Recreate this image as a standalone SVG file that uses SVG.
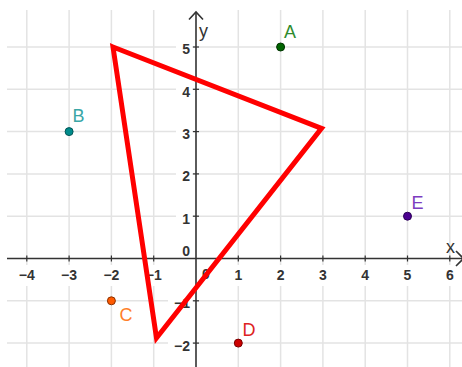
<svg xmlns="http://www.w3.org/2000/svg" width="462" height="367" viewBox="0 0 462 367">
<defs>
<style>
.grid line{stroke:#e3e3e3;stroke-width:1.5}
.axis{stroke:#333;stroke-width:1.6;fill:none}
.tick{stroke:#333;stroke-width:1.2}
.bg{fill:#fff}
.num{font-family:"Liberation Sans",Arial,sans-serif;font-size:14px;font-weight:bold;fill:#333}
.xn{text-anchor:middle}
.yn{text-anchor:end}
.lbl{font-family:"Liberation Sans",Arial,sans-serif;font-size:18px}
.tri{fill:none;stroke:#ff0000;stroke-width:5;stroke-linejoin:miter}
</style>
</defs>
<rect width="462" height="367" fill="#fff"/>
<g id="grid" class="grid">
<line x1="26.8" y1="10" x2="26.8" y2="367"/>
<line x1="69.1" y1="10" x2="69.1" y2="367"/>
<line x1="111.4" y1="10" x2="111.4" y2="367"/>
<line x1="153.7" y1="10" x2="153.7" y2="367"/>
<line x1="238.3" y1="10" x2="238.3" y2="367"/>
<line x1="280.6" y1="10" x2="280.6" y2="367"/>
<line x1="322.9" y1="10" x2="322.9" y2="367"/>
<line x1="365.2" y1="10" x2="365.2" y2="367"/>
<line x1="407.5" y1="10" x2="407.5" y2="367"/>
<line x1="449.8" y1="10" x2="449.8" y2="367"/>
<line x1="7" y1="47" x2="462" y2="47"/>
<line x1="7" y1="89.3" x2="462" y2="89.3"/>
<line x1="7" y1="131.6" x2="462" y2="131.6"/>
<line x1="7" y1="173.9" x2="462" y2="173.9"/>
<line x1="7" y1="216.2" x2="462" y2="216.2"/>
<line x1="7" y1="300.8" x2="462" y2="300.8"/>
<line x1="7" y1="343.1" x2="462" y2="343.1"/>
</g>
<g id="label-bg" class="bg">
<rect x="16" y="265" width="22" height="21"/>
<rect x="58" y="265" width="22" height="21"/>
<rect x="100" y="265" width="22" height="21"/>
<rect x="143" y="265" width="22" height="21"/>
<rect x="231" y="265" width="15" height="21"/>
<rect x="273" y="265" width="15" height="21"/>
<rect x="315" y="265" width="15" height="21"/>
<rect x="358" y="265" width="15" height="21"/>
<rect x="400" y="265" width="15" height="21"/>
<rect x="442" y="265" width="15" height="21"/>
<rect x="176" y="41" width="16" height="16"/>
<rect x="176" y="83" width="16" height="16"/>
<rect x="176" y="126" width="16" height="16"/>
<rect x="176" y="168" width="16" height="16"/>
<rect x="176" y="210" width="16" height="16"/>
<rect x="168" y="295" width="24" height="16"/>
<rect x="168" y="337" width="24" height="16"/>
</g>
<g id="axes">
<line class="axis" x1="7" y1="258.5" x2="462" y2="258.5"/>
<line class="axis" x1="196" y1="12" x2="196" y2="367"/>
<polyline class="axis" points="189,19.5 196,12 203,19.5"/>
<polyline class="axis" points="456,251 463.5,258.5 456,266"/>
<g class="tick">
<line x1="26.8" y1="255.5" x2="26.8" y2="261.5"/>
<line x1="69.1" y1="255.5" x2="69.1" y2="261.5"/>
<line x1="111.4" y1="255.5" x2="111.4" y2="261.5"/>
<line x1="153.7" y1="255.5" x2="153.7" y2="261.5"/>
<line x1="238.3" y1="255.5" x2="238.3" y2="261.5"/>
<line x1="280.6" y1="255.5" x2="280.6" y2="261.5"/>
<line x1="322.9" y1="255.5" x2="322.9" y2="261.5"/>
<line x1="365.2" y1="255.5" x2="365.2" y2="261.5"/>
<line x1="407.5" y1="255.5" x2="407.5" y2="261.5"/>
<line x1="449.8" y1="255.5" x2="449.8" y2="261.5"/>
<line x1="193" y1="47" x2="199" y2="47"/>
<line x1="193" y1="89.3" x2="199" y2="89.3"/>
<line x1="193" y1="131.6" x2="199" y2="131.6"/>
<line x1="193" y1="173.9" x2="199" y2="173.9"/>
<line x1="193" y1="216.2" x2="199" y2="216.2"/>
<line x1="193" y1="300.8" x2="199" y2="300.8"/>
<line x1="193" y1="343.1" x2="199" y2="343.1"/>
</g>
<text class="lbl" x="199" y="37" fill="#333">y</text>
<text class="lbl" x="446" y="253" fill="#333">x</text>
</g>
<g id="numbers" class="num">
<text class="xn" x="26.8" y="280">−4</text>
<text class="xn" x="69.1" y="280">−3</text>
<text class="xn" x="111.4" y="280">−2</text>
<text class="xn" x="153.7" y="280">−1</text>
<text x="202" y="279">0</text>
<text class="xn" x="238.3" y="280">1</text>
<text class="xn" x="280.6" y="280">2</text>
<text class="xn" x="322.9" y="280">3</text>
<text class="xn" x="365.2" y="280">4</text>
<text class="xn" x="407.5" y="280">5</text>
<text class="xn" x="449.8" y="280">6</text>
<text class="yn" x="190" y="54">5</text>
<text class="yn" x="190" y="96.5">4</text>
<text class="yn" x="190" y="139">3</text>
<text class="yn" x="190" y="181">2</text>
<text class="yn" x="190" y="223.5">1</text>
<text class="yn" x="190" y="256">0</text>
<text class="yn" x="190" y="308">−1</text>
<text class="yn" x="190" y="350.5">−2</text>
</g>
<g id="triangle">
<polygon class="tri" points="113,47 321.5,128.3 156.5,338"/>
</g>
<g id="A">
<circle cx="280.6" cy="47" r="4" fill="#006400" stroke="#003300" stroke-width="1"/>
<text class="lbl" x="284" y="38" fill="#2e8b2e">A</text>
</g>
<g id="B">
<circle cx="69.1" cy="131.6" r="4" fill="#008b8b" stroke="#005555" stroke-width="1"/>
<text class="lbl" x="72.5" y="122" fill="#3aa6a6">B</text>
</g>
<g id="C">
<circle cx="111.4" cy="300.8" r="4" fill="#ff5a00" stroke="#8a3000" stroke-width="1"/>
<text class="lbl" x="119.5" y="321" fill="#ff7f2a">C</text>
</g>
<g id="D">
<circle cx="238.3" cy="343.1" r="4" fill="#cc0000" stroke="#770000" stroke-width="1"/>
<text class="lbl" x="242.5" y="336" fill="#dd2222">D</text>
</g>
<g id="E">
<circle cx="407.5" cy="216.2" r="4" fill="#4b0090" stroke="#2a0055" stroke-width="1"/>
<text class="lbl" x="411.5" y="209" fill="#7d3cc0">E</text>
</g>
</svg>
